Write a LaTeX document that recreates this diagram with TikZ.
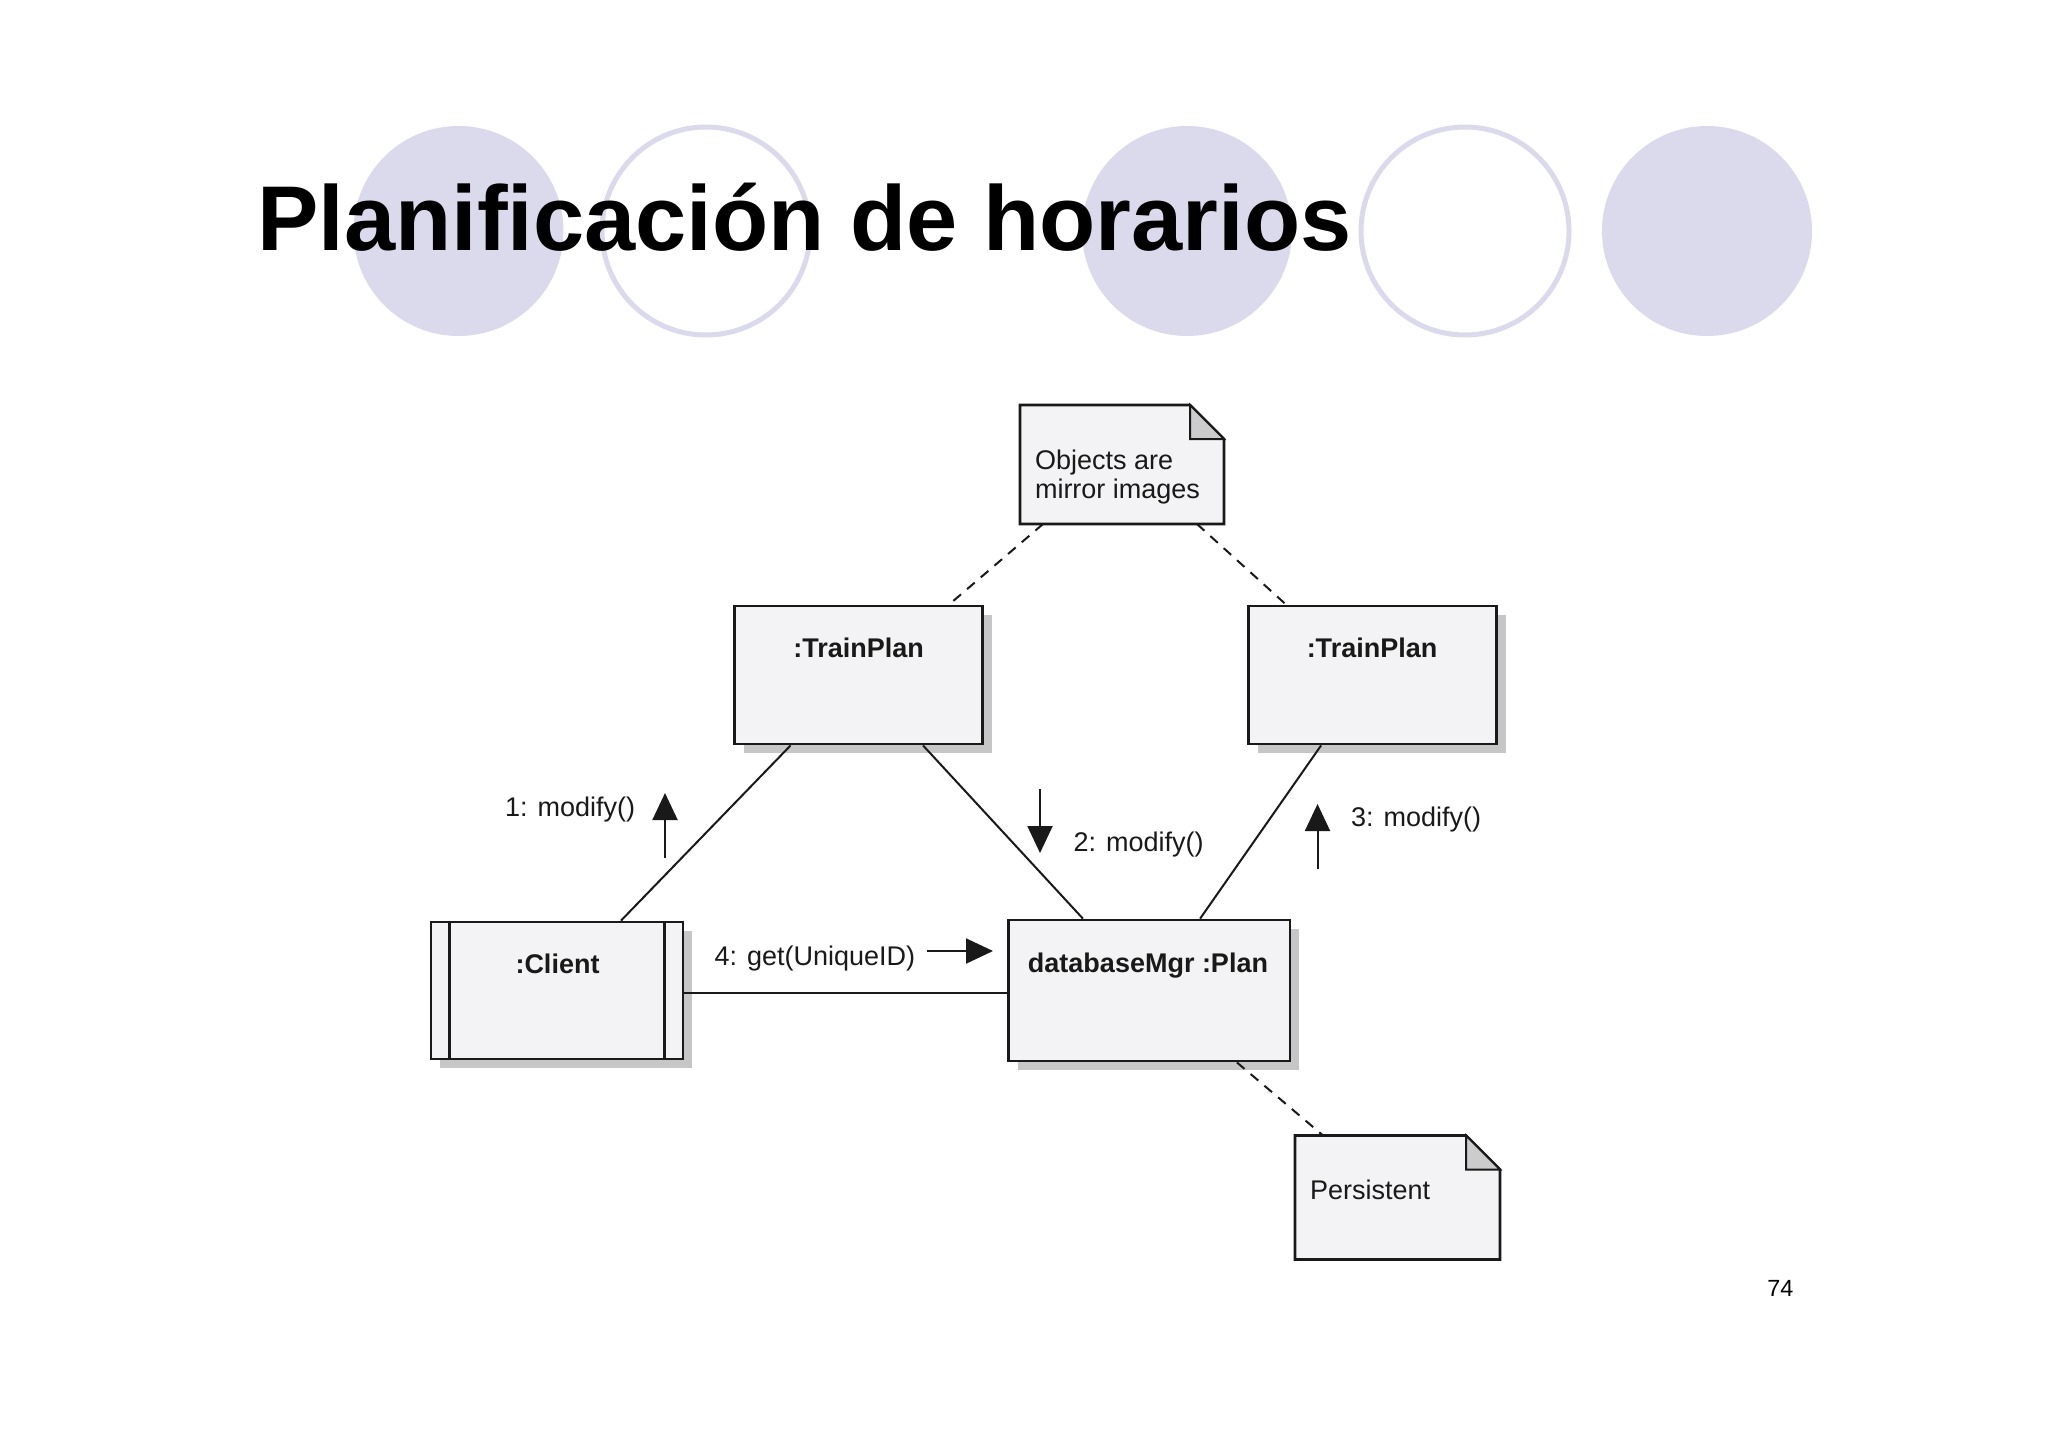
\documentclass[tikz,border=0pt]{standalone}
\usepackage{fontspec}
\setmainfont{Liberation Sans}
\usetikzlibrary{arrows.meta,shadows}
\definecolor{lav}{RGB}{219,217,236}
\definecolor{boxfill}{RGB}{243,243,245}
\definecolor{foldgray}{RGB}{204,204,204}
\definecolor{ink}{RGB}{25,25,25}
\begin{document}
\begin{tikzpicture}[x=0.5pt,y=-0.5pt,
  objbox/.style={draw=ink, line width=1.4pt, fill=boxfill, inner sep=0pt,
    general shadow={fill=gray!45, shadow xshift=4.5pt, shadow yshift=-4.5pt}},
  notebox/.style={inner sep=0pt, outer sep=0pt},
  noteshape/.style={draw=ink, line width=1.4pt, fill=boxfill},
  lbl/.style={inner sep=0pt, outer sep=0pt, font=\fontsize{13.5pt}{16pt}\selectfont, text=ink},
  blbl/.style={inner sep=0pt, outer sep=0pt, font=\fontsize{13.5pt}{16pt}\selectfont\bfseries, text=ink},
  link/.style={draw=ink, line width=1pt},
  notelink/.style={draw=ink, line width=1pt, dash pattern=on 5pt off 4pt},
  msg/.style={draw=ink, line width=1pt, -{Triangle[length=13.5pt,width=12.5pt]}},
  ring/.style={draw=lav, line width=2.5pt},
]
\useasboundingbox[fill=white] (0,0) rectangle (2048,1447);

% decorative circles
\fill[lav] (458.5,231) circle[radius=52.5pt];
\draw[ring] (706,231) circle[radius=52pt];
\fill[lav] (1187,231) circle[radius=52.5pt];
\draw[ring] (1465,231) circle[radius=52pt];
\fill[lav] (1707,231) circle[radius=52.5pt];

% title
\node[anchor=base west, inner sep=0pt, font=\fontsize{46pt}{50pt}\selectfont\bfseries] (title) at (257,250) {Planificación de horarios};

% object boxes
\node[objbox, minimum width=124pt, minimum height=69pt] (tp1) at (858.6,675) {};
\node[objbox, minimum width=124pt, minimum height=69pt] (tp2) at (1372.5,675) {};
\node[objbox, minimum width=126pt, minimum height=68.5pt] (client) at (557,990.5) {};
\node[objbox, minimum width=140.7pt, minimum height=70.5pt] (db) at (1149.3,990.5) {};
\draw[ink, line width=1.4pt] ([xshift=9.8pt]client.north west) -- ([xshift=9.8pt]client.south west);
\draw[ink, line width=1.4pt] ([xshift=-10pt]client.north east) -- ([xshift=-10pt]client.south east);

\node[blbl, anchor=base] (tp1t) at (858.6,657.5) {:TrainPlan};
\node[blbl, anchor=base] (tp2t) at (1372,657.5) {:TrainPlan};
\node[blbl, anchor=base] (clientt) at (557.5,973) {:Client};
\node[blbl, anchor=base] (dbt) at (1148,972) {databaseMgr :Plan};

% notes
\node[notebox, minimum width=102pt, minimum height=59.5pt] (note1) at (1122,464.5) {};
\draw[noteshape] (note1.north west) -- ([xshift=-17pt]note1.north east) -- ([yshift=-17pt]note1.north east) -- (note1.south east) -- (note1.south west) -- cycle;
\filldraw[fill=foldgray, draw=ink, line width=1pt] ([xshift=-17pt]note1.north east) -- ([xshift=-17pt,yshift=-17pt]note1.north east) -- ([yshift=-17pt]note1.north east) -- cycle;
\node[lbl, anchor=base west] (note1a) at (1035,469) {Objects are};
\node[lbl, anchor=base west] (note1b) at (1035,498) {mirror images};

\node[notebox, minimum width=102.5pt, minimum height=62pt] (note2) at (1397.5,1197.5) {};
\draw[noteshape] (note2.north west) -- ([xshift=-17pt]note2.north east) -- ([yshift=-17pt]note2.north east) -- (note2.south east) -- (note2.south west) -- cycle;
\filldraw[fill=foldgray, draw=ink, line width=1pt] ([xshift=-17pt]note2.north east) -- ([xshift=-17pt,yshift=-17pt]note2.north east) -- ([yshift=-17pt]note2.north east) -- cycle;
\node[lbl, anchor=base west] (note2a) at (1310,1199) {Persistent};

% links
\draw[link] ([xshift=-34pt]tp1.south) -- ([xshift=32pt]client.north);
\draw[link] ([xshift=32.2pt]tp1.south) -- ([xshift=-33.2pt]db.north);
\draw[link] ([xshift=-25.7pt]tp2.south) -- ([xshift=25.4pt]db.north);
\draw[link] ([yshift=-1.2pt]client.east) -- ([yshift=-1.2pt]db.west);

% note links
\draw[notelink] ([xshift=-39.5pt]note1.south) -- ([xshift=45.2pt]tp1.north);
\draw[notelink] ([xshift=37.5pt]note1.south) -- ([xshift=-43.2pt]tp2.north);
\draw[notelink] ([xshift=43.8pt]db.south) -- ([xshift=-37.2pt]note2.north);

% messages
\coordinate (m1a) at (665,858); \coordinate (m1b) at (665,793);
\coordinate (m2a) at (1040,789); \coordinate (m2b) at (1040,853);
\coordinate (m3a) at (1317.5,869); \coordinate (m3b) at (1317.5,804);
\coordinate (m4a) at (927,951); \coordinate (m4b) at (993,951);
\draw[msg] (m1a) -- (m1b);
\draw[msg] (m2a) -- (m2b);
\draw[msg] (m3a) -- (m3b);
\draw[msg] (m4a) -- (m4b);
\node[lbl, anchor=base west] (l1) at (505,816.5) {1: modify()};
\node[lbl, anchor=base west] (l2) at (1073.5,851) {2: modify()};
\node[lbl, anchor=base west] (l3) at (1351,826.5) {3: modify()};
\node[lbl, anchor=base west] (l4) at (714.5,965) {4: get(UniqueID)};

% page number
\node[anchor=base west, inner sep=0pt, font=\fontsize{11.7pt}{14pt}\selectfont] (pg) at (1767,1296) {74};
\end{tikzpicture}
\end{document}
